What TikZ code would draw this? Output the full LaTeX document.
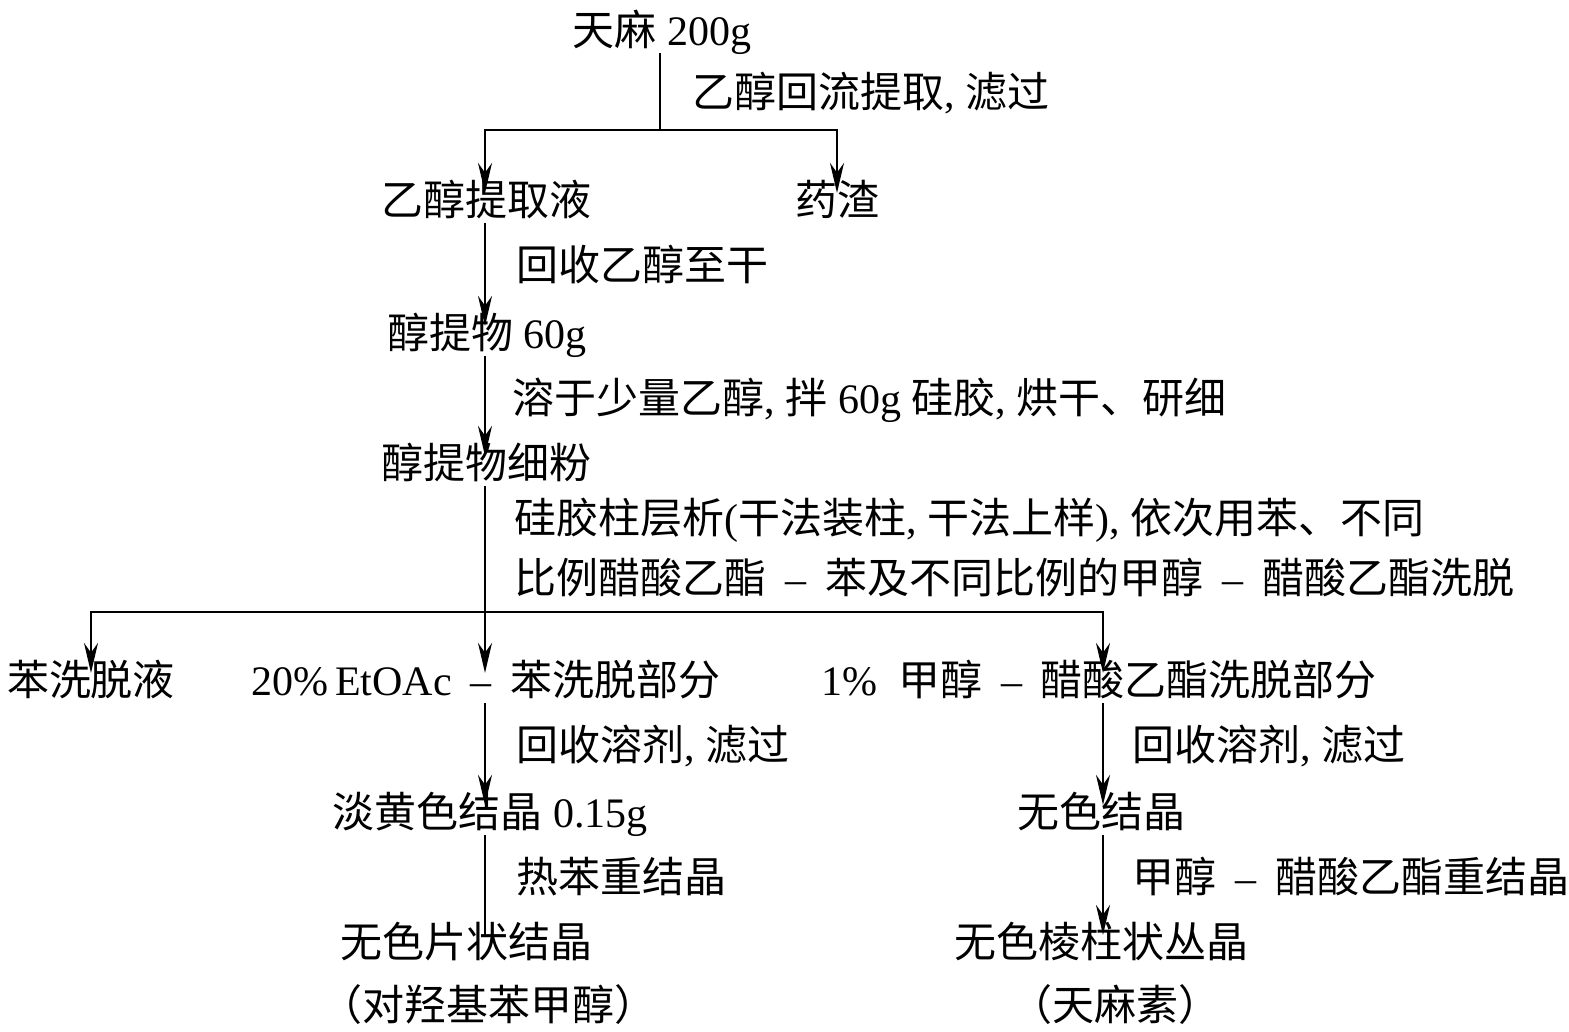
\documentclass[tikz,border=0pt]{standalone}
\usepackage{fontspec}
\setmainfont{Liberation Serif}
\newfontfamily\cjk{Noto Sans CJK SC}
\usetikzlibrary{arrows.meta}
\newcommand{\latn}[1]{{\rmfamily#1}}
\newcommand{\dou}{\latn{, }}
\newcommand{\lian}{\latn{\hspace{0.45em}--\hspace{0.45em}}}

\begin{document}
\begin{tikzpicture}[x=0.5pt, y=-0.5pt, >={Stealth[length=15pt,width=7pt]},
	line width=0.9pt,
	item/.style={inner sep=2pt, yshift=-4pt, font=\cjk\fontsize{21}{30}\selectfont,
	text height=0.9em, text depth=0.12em},
	note/.style={item, anchor=west}]
\useasboundingbox (0,0) rectangle (1569,1032);

\coordinate (colT) at (660,0);
\coordinate (colL) at (485,0);
\coordinate (colR) at (1103,0);
\coordinate (s1) at (660,130);
\coordinate (s2) at (485,612);

\node[item] (tianma) at (662,30) {天麻\latn{ 200g}};
\node[note] (n1) at (688,92) {乙醇回流提取\dou 滤过};
\node[item] (tiqu) at (486,200) {乙醇提取液};
\node[item] (yaozha) at (837,200) {药渣};
\node[note] (n2) at (512,265) {回收乙醇至干};
\node[item] (chun) at (487,333) {醇提物\latn{ 60g}};
\node[note] (n3) at (508,398) {溶于少量乙醇\dou 拌\latn{ 60g }硅胶\dou 烘干、研细};
\node[item] (xifen) at (486,463) {醇提物细粉};
\node[note] (n4) at (510,518) {硅胶柱层析\latn{(}干法装柱\dou 干法上样\latn{)}\dou 依次用苯、不同};
\node[note] (n5) at (510,578) {比例醋酸乙酯\lian 苯及不同比例的甲醇\lian 醋酸乙酯洗脱};
\node[item] (ben) at (91,680) {苯洗脱液};
\node[item] (etoac) at (486,680) {\latn{20\%\,EtOAc}\lian 苯洗脱部分};
\node[item] (jiachun) at (1099,680) {\latn{1\%\enspace}甲醇\lian 醋酸乙酯洗脱部分};
\node[note] (n6) at (512,745) {回收溶剂\dou 滤过};
\node[item] (danhuang) at (490,812) {淡黄色结晶\latn{ 0.15g}};
\node[note] (n7) at (512,877) {热苯重结晶};
\node[item] (pian) at (466,942) {无色片状结晶};
\node[item] (duiqiang) at (488,1005) {（对羟基苯甲醇）};
\node[note] (n8) at (1128,745) {回收溶剂\dou 滤过};
\node[item] (wuse) at (1101,812) {无色结晶};
\node[note] (n9) at (1128,877) {甲醇\lian 醋酸乙酯重结晶};
\node[item] (lengzhu) at (1101,942) {无色棱柱状丛晶};
\node[item] (tianmasu) at (1115,1005) {（天麻素）};

% first split
\draw (tianma.south -| colT) -- (s1);
\draw[->] (s1) -| (tiqu.north -| colL);
\draw[->] (s1) -| (yaozha.north);
% main column
\draw[->] (tiqu.south -| colL) -- (chun.north -| colL);
\draw[->] (chun.south -| colL) -- (xifen.north -| colL);
\draw[->] (xifen.south -| colL) -- (etoac.north -| colL);
% second split
\draw[->] (s2) -| (ben.north);
\draw[->] (s2) -| (jiachun.north -| colR);
% left branch
\draw[->] (etoac.south -| colL) -- (danhuang.north -| colL);
\draw (danhuang.south -| colL) -- (pian.north -| colL);
% right branch
\draw[->] (jiachun.south -| colR) -- (wuse.north -| colR);
\draw[->] (wuse.south -| colR) -- (lengzhu.north -| colR);
\end{tikzpicture}
\end{document}
